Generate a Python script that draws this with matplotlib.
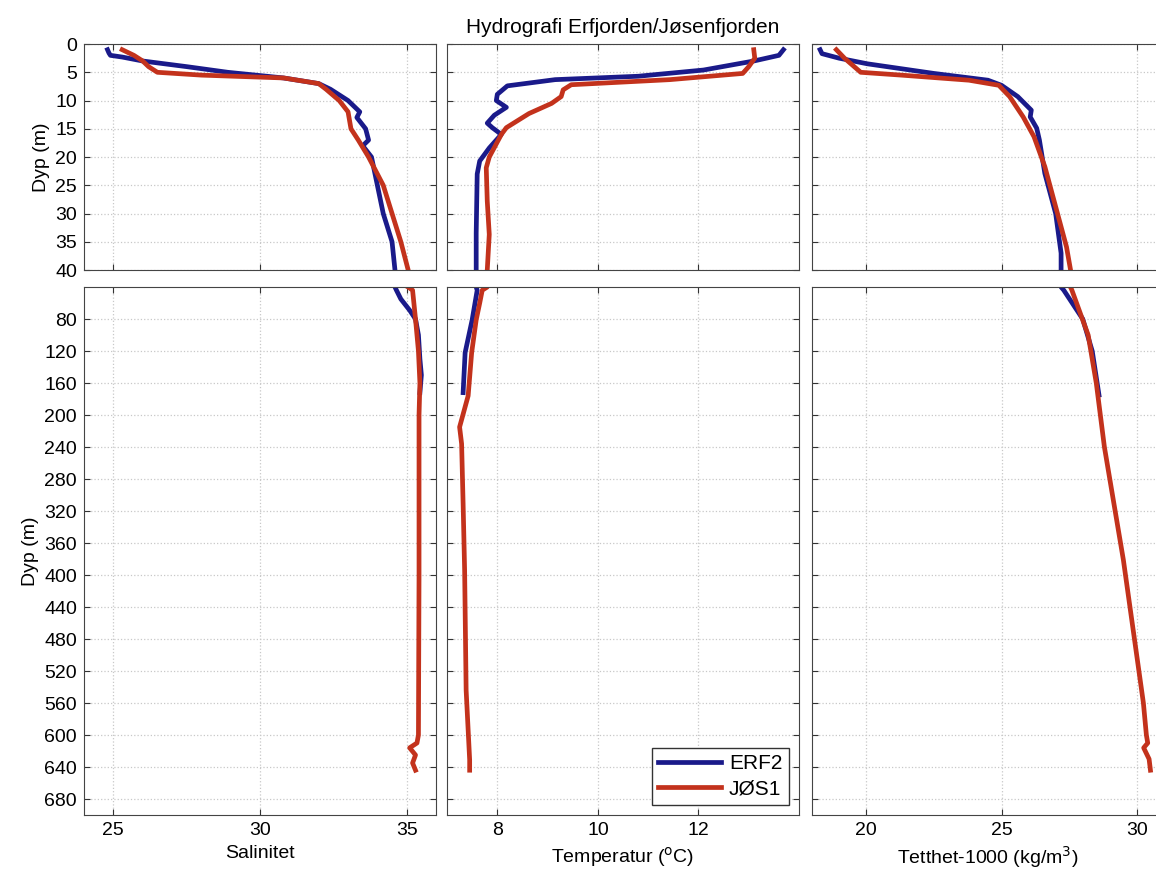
import numpy as np
import matplotlib
matplotlib.use('Agg')
import matplotlib.pyplot as plt

plt.rcParams['font.family'] = ['Liberation Sans', 'DejaVu Sans']

# ERF2 profiles (depth m, value)
erf_sal_d = [1, 1.6, 2, 2.3, 3, 4, 5, 6, 7, 8, 10, 12, 13, 15, 17, 18, 20, 25, 30, 35, 40, 44, 55, 69, 80, 100, 130, 150, 172]
erf_sal = [24.8, 24.85, 24.9, 25.3, 26.0, 27.5, 28.9, 30.8, 32.0, 32.4, 33.0, 33.4, 33.3, 33.6, 33.7, 33.5, 33.8, 34.0, 34.2, 34.5, 34.6, 34.65, 34.8, 35.1, 35.3, 35.4, 35.45, 35.5, 35.45]

erf_tmp_d = [1, 2, 3, 4.6, 5.7, 6.3, 7.4, 8.9, 10, 11.2, 12.6, 14, 14.8, 16, 18.4, 20.7, 23, 33.5, 40, 44, 81, 122, 172]
erf_tmp = [13.69, 13.6, 13.1, 12.1, 10.8, 9.15, 8.2, 8.0, 7.98, 8.18, 7.94, 7.8, 7.9, 8.08, 7.84, 7.65, 7.6, 7.58, 7.58, 7.6, 7.5, 7.36, 7.32]

erf_den_d = [1, 1.7, 2.5, 3.5, 5.2, 6.4, 7.3, 9.3, 11.7, 12.9, 14.9, 17, 22.9, 30, 37, 40, 44, 80, 120, 175]
erf_den = [18.3, 18.37, 19.0, 20.05, 22.5, 24.5, 25.0, 25.6, 26.1, 26.06, 26.3, 26.4, 26.6, 27.0, 27.2, 27.2, 27.3, 28.0, 28.35, 28.6]

# JØS1 profiles
jos_sal_d = [1, 2, 3, 4, 5, 5.5, 6, 7, 8, 10, 12, 15, 17, 20, 25, 30, 35, 40, 44, 80, 120, 160, 200, 300, 400, 500, 600, 610, 616, 625, 635, 644]
jos_sal = [25.3, 25.7, 26.0, 26.2, 26.5, 28.0, 30.8, 32.0, 32.25, 32.7, 33.0, 33.1, 33.35, 33.7, 34.2, 34.5, 34.8, 35.05, 35.2, 35.3, 35.4, 35.45, 35.42, 35.42, 35.42, 35.41, 35.4, 35.35, 35.1, 35.3, 35.2, 35.3]

jos_tmp_d = [1, 2.5, 4, 5.2, 6.3, 7.2, 8.1, 9.3, 10.5, 12.3, 14.8, 16, 20, 21.9, 27.8, 33.7, 40, 44, 60, 81, 122, 176, 215, 236, 311, 394, 544, 631, 644]
jos_tmp = [13.1, 13.12, 13.0, 12.88, 11.43, 9.47, 9.31, 9.27, 9.08, 8.63, 8.18, 8.08, 7.84, 7.78, 7.8, 7.84, 7.8, 7.7, 7.65, 7.58, 7.49, 7.42, 7.25, 7.29, 7.32, 7.35, 7.38, 7.45, 7.45]

jos_den_d = [1, 2.5, 5, 5.5, 6.4, 7.3, 9.3, 12.9, 16.4, 21.7, 28.8, 35.9, 40, 44, 100, 160, 240, 381, 560, 600, 610, 616, 630, 644]
jos_den = [18.9, 19.2, 19.8, 21.3, 23.8, 24.9, 25.3, 25.8, 26.2, 26.6, 27.0, 27.4, 27.55, 27.6, 28.2, 28.5, 28.8, 29.5, 30.24, 30.35, 30.4, 30.25, 30.45, 30.5]

blue = '#1a1a8a'
red = '#c3321c'

panels = [
    (erf_sal_d, erf_sal, jos_sal_d, jos_sal, (24, 36), [25, 30, 35], 'Salinitet'),
    (erf_tmp_d, erf_tmp, jos_tmp_d, jos_tmp, (7, 14), [8, 10, 12], 'Temperatur ($^{\\mathrm{o}}$C)'),
    (erf_den_d, erf_den, jos_den_d, jos_den, (18, 31), [20, 25, 30], 'Tetthet-1000 (kg/m$^3$)'),
]

fig = plt.figure(figsize=(11.56, 8.81), dpi=100)
lefts = [0.0727, 0.3867, 0.7024]
w = 0.3045
fs = 14

for i, (d1, v1, d2, v2, xl, xt, lab) in enumerate(panels):
    top = fig.add_axes([lefts[i], 0.6935, w, 0.2565])
    bot = fig.add_axes([lefts[i], 0.0749, w, 0.5993])
    for ax in (top, bot):
        ax.plot(v1, d1, color=blue, lw=3.4, label='ERF2')
        ax.plot(v2, d2, color=red, lw=3.4, label='JØS1')
        ax.set_xlim(xl)
        ax.set_xticks(xt)
        ax.grid(True, color='#c8c8c8', linestyle=':', linewidth=0.9)
        ax.tick_params(direction='in', top=True, right=True, labelsize=fs, length=4,
                       color='#333333', pad=5)
        for s in ax.spines.values():
            s.set_color('#444444')
    top.set_ylim(40, 0)
    top.set_yticks(np.arange(0, 41, 5))
    top.tick_params(labelbottom=False)
    bot.set_ylim(700, 40)
    bot.set_yticks(np.arange(80, 681, 40))
    bot.set_xlabel(lab, fontsize=fs, labelpad=4)
    if i == 0:
        top.set_ylabel('Dyp (m)', fontsize=fs, labelpad=4)
        bot.set_ylabel('Dyp (m)', fontsize=fs, labelpad=4)
    else:
        top.tick_params(labelleft=False)
        bot.tick_params(labelleft=False)
    if i == 1:
        top.set_title('Hydrografi Erfjorden/Jøsenfjorden', fontsize=fs + 1, pad=8)
        bot.legend(loc='lower right', fontsize=fs + 1, handlelength=3.0, fancybox=False,
                   edgecolor='#333333', framealpha=1, borderaxespad=0.5,
                   handletextpad=0.4, labelspacing=0.3, borderpad=0.3)

plt.savefig('out.png', dpi=100)
